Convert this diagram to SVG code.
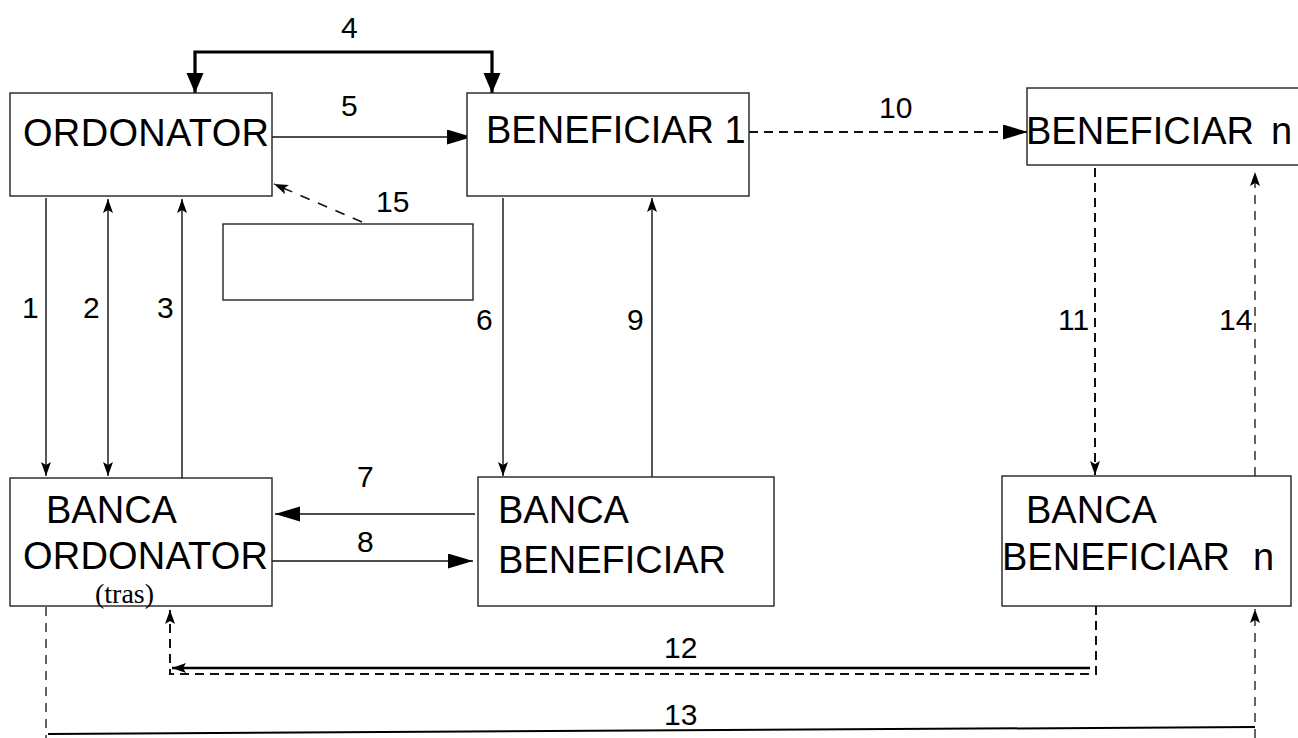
<svg xmlns="http://www.w3.org/2000/svg" width="1298" height="738" viewBox="0 0 1298 738">
<style>
.box{fill:#fff;stroke:#222;stroke-width:1.4}
.t{font-family:"Liberation Sans",Arial,sans-serif;font-size:38px;fill:#000}
.lbl{font-family:"Liberation Sans",Arial,sans-serif;font-size:30px;fill:#000}
.ln{fill:none;stroke:#111;stroke-width:1.4}
.dash{fill:none;stroke:#111;stroke-width:2;stroke-dasharray:9 6}
.dthin{fill:none;stroke:#111;stroke-width:1.3;stroke-dasharray:9 7}
</style>
<defs>
<marker id="big" markerUnits="userSpaceOnUse" markerWidth="26" markerHeight="16" refX="25" refY="7.5" orient="auto"><path d="M0,0 L25,7.5 L0,15 z" fill="#000"/></marker>
<marker id="sm" markerUnits="userSpaceOnUse" markerWidth="15" markerHeight="11" refX="14" refY="5" orient="auto-start-reverse"><path d="M0,0 L14,5 L0,10 L3,5 z" fill="#000"/></marker>
<marker id="thk" markerUnits="userSpaceOnUse" markerWidth="21" markerHeight="18" refX="20" refY="8.5" orient="auto-start-reverse"><path d="M0,0 L20,8.5 L0,17 z" fill="#000"/></marker>
</defs>
<rect width="1298" height="738" fill="#fff"/>
<g id="connectors">
<path class="ln" d="M46,198 V476" marker-end="url(#sm)"/>
<path class="ln" d="M108,199 V476" marker-start="url(#sm)" marker-end="url(#sm)"/>
<path class="ln" d="M182,478 V199" marker-end="url(#sm)"/>
<path d="M195,93 V52 H492 V93" fill="none" stroke="#000" stroke-width="3.2" marker-start="url(#thk)" marker-end="url(#thk)"/>
<path class="ln" d="M272,137 H472" marker-end="url(#big)"/>
<path class="ln" d="M503,198 V476" marker-end="url(#sm)"/>
<path class="ln" d="M475,514 H275" marker-end="url(#big)"/>
<path class="ln" d="M272,561 H473" marker-end="url(#big)"/>
<path class="ln" d="M652,477 V198" marker-end="url(#sm)"/>
<path class="dash" d="M749,132 H1028" marker-end="url(#big)"/>
<path class="dash" d="M1095,168 V475" marker-end="url(#sm)"/>
<path class="dthin" d="M1255,476 V172" marker-end="url(#sm)"/>
<path class="dash" d="M1096,606 V674 H170 V610" marker-end="url(#sm)"/>
<path d="M1090,668 H172" fill="none" stroke="#000" stroke-width="2.6" marker-end="url(#sm)"/>
<path class="dthin" d="M46,607 V738"/>
<path d="M48,734 L1255,727" fill="none" stroke="#000" stroke-width="2"/>
<path class="dthin" d="M1255,738 V609" marker-end="url(#sm)"/>
<path d="M362,222 L274,184" fill="none" stroke="#111" stroke-width="1.6" stroke-dasharray="10 9" marker-end="url(#sm)"/>
</g>
<g id="labels">
<text class="lbl" x="341" y="38">4</text>
<text class="lbl" x="341" y="116">5</text>
<text class="lbl" x="879" y="118">10</text>
<text class="lbl" x="376" y="212">15</text>
<text class="lbl" x="22" y="318">1</text>
<text class="lbl" x="83" y="318">2</text>
<text class="lbl" x="157" y="318">3</text>
<text class="lbl" x="476" y="330">6</text>
<text class="lbl" x="627" y="330">9</text>
<text class="lbl" x="1058" y="330">11</text>
<text class="lbl" x="1219" y="330">14</text>
<text class="lbl" x="357" y="487">7</text>
<text class="lbl" x="357" y="552">8</text>
<text class="lbl" x="664" y="658">12</text>
<text class="lbl" x="664" y="725">13</text>
</g>
<g id="ordonator">
<rect class="box" x="10" y="93" width="262" height="103"/>
<text class="t" x="23" y="146" textLength="246">ORDONATOR</text>
</g>
<g id="beneficiar1">
<rect class="box" x="467" y="93" width="282" height="103"/>
<text class="t" x="486" y="143">BENEFICIAR 1</text>
</g>
<g id="beneficiarn">
<rect class="box" x="1027" y="88" width="280" height="77"/>
<text class="t" x="1026" y="144">BENEFICIAR</text>
<text class="t" x="1271" y="144">n</text>
</g>
<g id="empty-box">
<rect class="box" x="223" y="224" width="250" height="76"/>
</g>
<g id="banca-ordonator">
<rect class="box" x="10" y="478" width="262" height="128"/>
<text class="t" x="46" y="523">BANCA</text>
<text class="t" x="23" y="569" textLength="245">ORDONATOR</text>
<text x="95" y="603" font-family="'Liberation Serif','Times New Roman',serif" font-size="28">(tras)</text>
</g>
<g id="banca-beneficiar">
<rect class="box" x="478" y="477" width="296" height="129"/>
<text class="t" x="498" y="523">BANCA</text>
<text class="t" x="498" y="573">BENEFICIAR</text>
</g>
<g id="banca-beneficiar-n">
<rect class="box" x="1002" y="476" width="289" height="130"/>
<text class="t" x="1026" y="523">BANCA</text>
<text class="t" x="1002" y="570">BENEFICIAR</text>
<text class="t" x="1253" y="570">n</text>
</g>
</svg>
